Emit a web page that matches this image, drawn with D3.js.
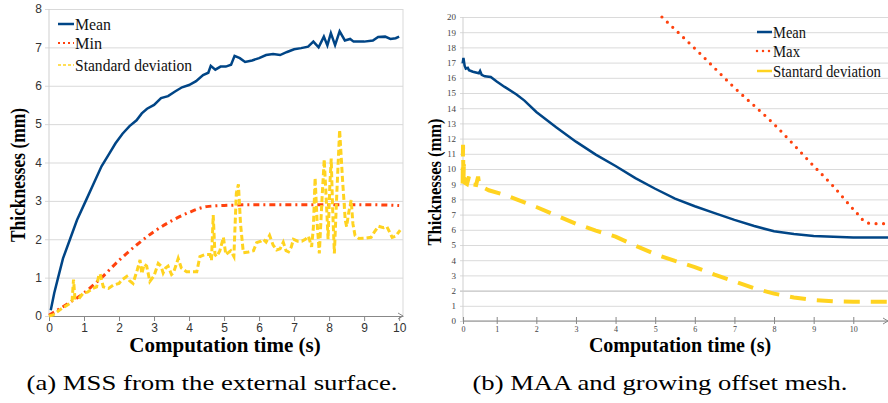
<!DOCTYPE html>
<html>
<head>
<meta charset="utf-8">
<script src="https://cdn.jsdelivr.net/npm/d3@7"></script>
<style>
  body { margin: 0; background: #fff; }
  svg { display: block; }
  text.serif { font-family: "Liberation Serif", "Times New Roman", serif; }
</style>
</head>
<body>
<svg id="chart"></svg>
<script>
const width = 888;
const height = 403;

// colours of the LibreOffice default palette
const blue = "#004586";
const red = "#ff420e";
const yellow = "#ffd320";

// (a) MSS from the external surface : [time (s), thickness (mm)]
const meanA = [[0.05,0.15],[0.15,0.6],[0.26,1.0],[0.4,1.5],[0.6,2.0],[0.8,2.5],[1.05,3.0],[1.25,3.4],[1.5,3.9],
  [1.7,4.2],[1.9,4.5],[2.1,4.75],[2.3,4.95],[2.5,5.1],[2.65,5.28],[2.8,5.4],[3.0,5.5],[3.2,5.68],[3.4,5.73],
  [3.6,5.85],[3.8,5.96],[4.0,6.02],[4.2,6.12],[4.4,6.28],[4.55,6.34],[4.62,6.52],[4.75,6.42],[4.9,6.5],
  [5.05,6.5],[5.2,6.55],[5.3,6.78],[5.45,6.72],[5.6,6.62],[5.8,6.66],[6.0,6.72],[6.2,6.8],[6.4,6.83],
  [6.6,6.8],[6.8,6.88],[7.0,6.95],[7.2,6.98],[7.4,7.02],[7.55,7.15],[7.7,7.0],[7.85,7.28],[7.95,7.05],
  [8.05,7.37],[8.17,7.06],[8.3,7.42],[8.45,7.18],[8.6,7.22],[8.7,7.15],[9.0,7.15],[9.25,7.18],[9.4,7.27],
  [9.6,7.28],[9.75,7.22],[9.9,7.24],[10.0,7.28]];
const minA = [[0,0.02],[0.5,0.3],[1,0.6],[1.5,1.0],[2,1.45],[2.5,1.85],[3,2.2],[3.5,2.48],[4,2.7],[4.5,2.85],
  [5,2.88],[6,2.9],[7,2.9],[8,2.9],[9,2.9],[10,2.88]];
const stdA = [[0,0],[0.12,0.03],[0.31,0.16],[0.6,0.33],[0.66,0.4],[0.7,0.95],[0.74,0.47],[0.85,0.45],[0.98,0.6],
  [1.1,0.62],[1.25,0.72],[1.36,0.76],[1.42,1.05],[1.46,1.1],[1.55,0.76],[1.7,0.72],[1.83,0.8],[2.0,0.85],
  [2.08,0.94],[2.22,1.03],[2.3,0.92],[2.4,0.85],[2.52,1.2],[2.6,1.46],[2.65,1.1],[2.72,1.35],[2.79,1.3],
  [2.88,0.9],[3.0,1.05],[3.12,1.37],[3.2,1.3],[3.26,1.12],[3.33,1.25],[3.4,1.3],[3.5,1.08],[3.55,1.12],
  [3.62,1.3],[3.69,1.5],[3.78,1.25],[3.93,1.15],[4.1,1.15],[4.22,1.15],[4.31,1.55],[4.45,1.6],[4.6,1.6],
  [4.64,1.45],[4.69,2.63],[4.74,1.6],[4.79,1.55],[4.88,1.7],[4.98,2.05],[5.05,1.6],[5.12,1.65],[5.19,1.7],
  [5.28,1.55],[5.35,3.2],[5.41,3.43],[5.47,2.4],[5.55,1.65],[5.7,1.67],[5.84,1.7],[5.93,1.91],[6.05,1.95],
  [6.12,2.0],[6.2,1.93],[6.3,2.1],[6.4,1.85],[6.5,1.72],[6.6,1.75],[6.69,1.92],[6.77,1.7],[6.84,1.67],
  [6.92,1.8],[6.98,2.0],[7.1,1.95],[7.22,1.95],[7.32,2.0],[7.41,2.08],[7.5,1.8],[7.55,2.3],[7.6,3.6],
  [7.66,2.4],[7.72,1.63],[7.8,3.1],[7.86,4.08],[7.92,3.0],[7.97,2.0],[8.02,3.4],[8.06,4.1],[8.1,2.8],
  [8.15,1.63],[8.22,3.2],[8.3,4.85],[8.38,3.6],[8.46,2.5],[8.5,2.33],[8.56,2.7],[8.63,3.02],[8.68,2.4],
  [8.74,2.1],[8.85,2.02],[9.03,2.03],[9.2,2.05],[9.3,2.2],[9.41,2.34],[9.55,2.3],[9.65,2.33],[9.8,2.05],
  [9.9,2.08],[10.03,2.24]];

// (b) MAA and growing offset mesh
const meanB = [[0.14,16.95],[0.16,17.3],[0.19,16.8],[0.22,16.6],[0.27,16.65],[0.3,16.5],[0.4,16.4],[0.55,16.3],
  [0.58,16.45],[0.62,16.2],[0.7,16.1],[0.85,16.05],[1.0,15.75],[1.2,15.4],[1.5,14.9],[1.7,14.5],[2.0,13.75],
  [2.5,12.75],[3.0,11.8],[3.5,10.95],[4.0,10.2],[4.5,9.4],[5.0,8.7],[5.5,8.05],[6.0,7.55],[6.5,7.1],
  [7.0,6.65],[7.5,6.25],[8.0,5.9],[8.5,5.72],[9.0,5.6],[9.5,5.55],[10.0,5.5],[11.0,5.5]];
const maxB = [[5.17,20],[6.13,17.6],[6.98,15.4],[7.98,13.0],[9.0,10.2],[9.5,8.85],[10.09,7.1],[10.35,6.45],
  [10.6,6.4],[11,6.4]];
const stdB = [[0.14,9.05],[0.15,11.6],[0.16,9.1],[0.17,10.3],[0.19,9.1],[0.25,9.0],[0.3,9.5],[0.33,9.0],
  [0.48,8.95],[0.53,9.5],[0.56,8.9],[0.8,8.6],[1.2,8.3],[1.5,8.0],[2.0,7.5],[2.5,6.95],[3.0,6.4],[3.5,5.95],
  [4.0,5.55],[4.5,4.95],[5.0,4.4],[5.5,3.95],[6.0,3.55],[6.5,3.05],[7.0,2.6],[7.5,2.15],[8.0,1.8],[8.5,1.55],
  [9.0,1.38],[9.5,1.3],[10.0,1.27],[11.0,1.27]];

const legendA = ["Mean", "Min", "Standard deviation"];
const legendB = ["Mean", "Max", "Stantard deviation"];
const ticksAx = d3.range(0, 11);
const ticksBx = [0.15].concat(d3.range(1, 12));

const svg = d3.select("#chart").attr("width", width).attr("height", height);

// ---------- panel (a) ----------
const xA = d3.scaleLinear().domain([0, 10.11]).range([49, 403]);
const yA = d3.scaleLinear().domain([0, 8]).range([316, 9]);

const gA = svg.append("g");

gA.append("g")
  .attr("transform", "translate(45,0)")
  .call(d3.axisLeft(yA).ticks(8).tickSize(-(403 - 45)).tickPadding(3))
  .call(g => g.select(".domain").remove())
  .call(g => g.selectAll("line").attr("stroke", "#d9d9d9"))
  .call(g => g.selectAll("text").attr("fill", "#333").style("font-family", "'Liberation Sans', sans-serif").style("font-size", "12px"));

gA.append("line").attr("x1", 49).attr("x2", 49).attr("y1", 9).attr("y2", 316).attr("stroke", "#cfcfcf");
gA.append("line").attr("x1", 403).attr("x2", 403).attr("y1", 9).attr("y2", 316).attr("stroke", "#d9d9d9");

gA.append("g")
  .attr("transform", "translate(0,316)")
  .call(d3.axisBottom(xA).tickValues(ticksAx).tickSize(5).tickSizeOuter(0).tickPadding(2))
  .call(g => g.select(".domain").attr("stroke", "#888"))
  .call(g => g.selectAll("line").attr("stroke", "#888"))
  .call(g => g.selectAll("text").attr("fill", "#333").style("font-family", "'Liberation Sans', sans-serif").style("font-size", "12px"));
gA.append("path").attr("d", "M398,313L403,316L398,319").attr("fill", "none").attr("stroke", "#888");

const lineA = d3.line().x(d => xA(d[0])).y(d => yA(d[1]));

gA.append("path").datum(minA).attr("fill", "none").attr("stroke", red).attr("stroke-width", 3)
  .attr("stroke-dasharray", "6,4,2,4").attr("d", lineA.curve(d3.curveMonotoneX));
gA.append("path").datum(stdA).attr("fill", "none").attr("stroke", yellow).attr("stroke-width", 3)
  .attr("stroke-dasharray", "6,3").attr("d", lineA.curve(d3.curveLinear));
gA.append("path").datum(meanA).attr("fill", "none").attr("stroke", blue).attr("stroke-width", 2.5)
  .attr("d", lineA.curve(d3.curveLinear));

// legend (a)
const legA = gA.append("g");
const legAy = [24, 43, 65];
const legAw = [36, 27, 117];
const legAstyle = [[blue, 2.5, null], [red, 2, "2,3"], [yellow, 1.5, "3,2"]];
legendA.forEach((name, i) => {
  legA.append("line").attr("x1", 58).attr("x2", 74).attr("y1", legAy[i]).attr("y2", legAy[i])
    .attr("stroke", legAstyle[i][0]).attr("stroke-width", legAstyle[i][1])
    .attr("stroke-dasharray", legAstyle[i][2]);
  legA.append("text").attr("class", "serif").attr("x", 75).attr("y", legAy[i] + 5.5)
    .attr("textLength", legAw[i]).attr("lengthAdjust", "spacingAndGlyphs")
    .style("font-size", "16px").attr("fill", "#111").text(name);
});

gA.append("text").attr("class", "serif").attr("x", 225).attr("y", 352).attr("text-anchor", "middle")
  .style("font-weight", "bold").style("font-size", "21px").text("Computation time (s)");
gA.append("text").attr("class", "serif").attr("transform", "translate(25,175) rotate(-90)").attr("text-anchor", "middle")
  .attr("textLength", 134).attr("lengthAdjust", "spacingAndGlyphs")
  .style("font-weight", "bold").style("font-size", "20px").text("Thicknesses (mm)");
gA.append("text").attr("class", "serif").attr("x", 212).attr("y", 390).attr("text-anchor", "middle")
  .attr("textLength", 371).attr("lengthAdjust", "spacingAndGlyphs")
  .style("font-size", "21px").text("(a) MSS from the external surface.");

// ---------- panel (b) ----------
const xB = d3.scaleLinear().domain([0, 11]).range([457.1, 892.9]);
const yB = d3.scaleLinear().domain([0, 20]).range([321, 17]);

const gB = svg.append("g");

gB.append("g")
  .attr("transform", "translate(460,0)")
  .call(d3.axisLeft(yB).ticks(20).tickSize(-(width - 460)).tickPadding(4))
  .call(g => g.select(".domain").remove())
  .call(g => g.selectAll("line").attr("stroke", d => d === 2 ? "#b3b3b3" : "#dadada"))
  .call(g => g.selectAll("text").attr("class", "serif").attr("fill", "#444").style("font-size", "9px"));

gB.append("line").attr("x1", 463).attr("x2", 463).attr("y1", 17).attr("y2", 321).attr("stroke", "#cfcfcf");

gB.append("g")
  .attr("transform", "translate(0,321)")
  .call(d3.axisBottom(xB).tickValues(ticksBx).tickFormat(d3.format(".0f")).tickSize(3).tickPadding(2))
  .call(g => g.select(".domain").remove())
  .call(g => g.selectAll("line").attr("stroke", "#888").attr("y1", -4))
  .call(g => g.selectAll("text").attr("class", "serif").attr("fill", "#444").style("font-size", "8px"));
gB.append("line").attr("x1", 463).attr("x2", width).attr("y1", 321).attr("y2", 321).attr("stroke", "#888");
gB.append("path").attr("d", "M883,318L888,321L883,324").attr("fill", "none").attr("stroke", "#888");

const lineB = d3.line().x(d => xB(d[0])).y(d => yB(d[1]));

gB.append("path").datum(stdB).attr("fill", "none").attr("stroke", yellow).attr("stroke-width", 4)
  .attr("stroke-dasharray", "16,11").attr("d", lineB.curve(d3.curveLinear));
gB.append("path").datum(maxB).attr("fill", "none").attr("stroke", red).attr("stroke-width", 3.2)
  .attr("stroke-linecap", "round").attr("stroke-dasharray", "0,7.5").attr("d", lineB.curve(d3.curveMonotoneX));
gB.append("path").datum(meanB).attr("fill", "none").attr("stroke", blue).attr("stroke-width", 2.5)
  .attr("d", lineB.curve(d3.curveLinear));

// legend (b)
const legB = gB.append("g");
const legBy = [32, 51, 71];
const legBw = [33, 27, 108];
const legBstyle = [[blue, 2.5, null, "butt"], [red, 2.5, "0,6", "round"], [yellow, 2.5, null, "butt"]];
legendB.forEach((name, i) => {
  legB.append("line").attr("x1", 757).attr("x2", 772).attr("y1", legBy[i]).attr("y2", legBy[i])
    .attr("stroke", legBstyle[i][0]).attr("stroke-width", legBstyle[i][1])
    .attr("stroke-dasharray", legBstyle[i][2]).attr("stroke-linecap", legBstyle[i][3]);
  legB.append("text").attr("class", "serif").attr("x", 773).attr("y", legBy[i] + 5.5)
    .attr("textLength", legBw[i]).attr("lengthAdjust", "spacingAndGlyphs")
    .style("font-size", "16px").attr("fill", "#111").text(name);
});

gB.append("text").attr("class", "serif").attr("x", 680).attr("y", 352).attr("text-anchor", "middle")
  .style("font-weight", "bold").style("font-size", "20px").text("Computation time (s)");
gB.append("text").attr("class", "serif").attr("transform", "translate(441,182) rotate(-90)").attr("text-anchor", "middle")
  .attr("textLength", 127).attr("lengthAdjust", "spacingAndGlyphs")
  .style("font-weight", "bold").style("font-size", "19px").text("Thicknesses (mm)");
gB.append("text").attr("class", "serif").attr("x", 660).attr("y", 390).attr("text-anchor", "middle")
  .attr("textLength", 375).attr("lengthAdjust", "spacingAndGlyphs")
  .style("font-size", "21px").text("(b) MAA and growing offset mesh.");
</script>
</body>
</html>
